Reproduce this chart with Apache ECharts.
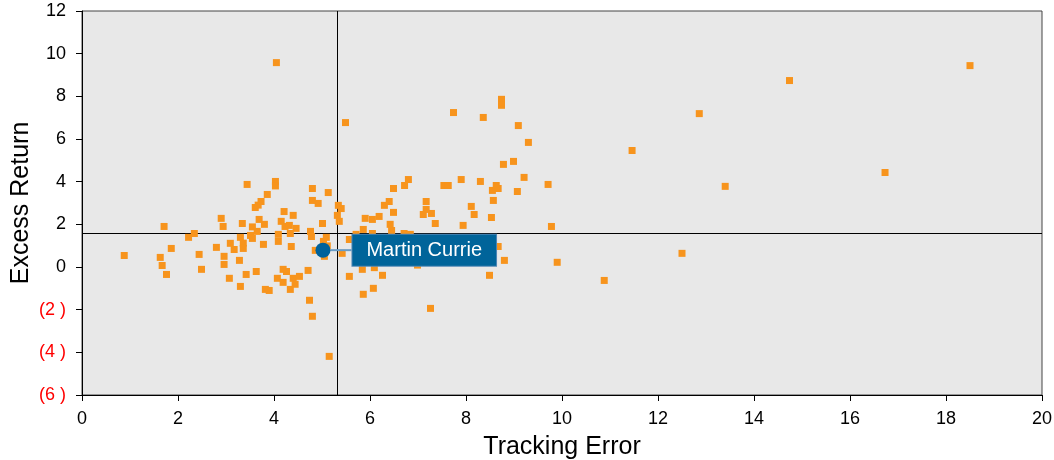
<!DOCTYPE html>
<html>
<head>
<meta charset="utf-8">
<script src="https://cdn.jsdelivr.net/npm/echarts@6/dist/echarts.min.js"></script>
<style>
html,body{margin:0;padding:0;background:#fff;}
#chart{width:1054px;height:460px;}
</style>
</head>
<body>
<div id="chart"></div>
<script>
// Peer universe: tracking error (x) vs excess return (y)
const trackingError = [
0.88,1.63,1.67,1.71,1.76,1.86,2.22,2.34,2.44,2.49,
2.80,2.90,2.94,2.96,2.96,3.07,3.09,3.17,3.28,3.30,
3.30,3.34,3.36,3.36,3.42,3.44,3.51,3.55,3.55,3.61,
3.63,3.65,3.67,3.69,3.73,3.78,3.80,3.82,3.86,3.90,
4.03,4.03,4.05,4.07,4.09,4.09,4.15,4.19,4.19,4.21,
4.23,4.26,4.32,4.34,4.34,4.36,4.40,4.40,4.44,4.46,
4.53,4.71,4.74,4.76,4.78,4.80,4.80,4.80,4.86,4.92,
5.01,5.03,5.05,5.09,5.11,5.13,5.15,5.32,5.34,5.36,
5.40,5.42,5.49,5.57,5.57,5.71,5.84,5.86,5.86,5.90,
6.05,6.05,6.07,6.09,6.19,6.26,6.30,6.40,6.42,6.45,
6.49,6.49,6.72,6.71,6.80,6.84,6.99,7.11,7.17,7.17,
7.26,7.28,7.36,7.54,7.63,7.74,7.90,7.94,8.11,8.17,
8.30,8.36,8.49,8.53,8.55,8.57,8.63,8.67,8.67,8.74,
8.74,8.78,8.80,8.99,9.07,9.09,9.21,9.30,9.71,9.78,
9.90,10.88,11.46,12.50,12.86,13.40,14.74,16.73,18.50
];
const excessReturn = [
0.54,0.45,0.07,1.90,-0.35,0.87,1.39,1.57,0.59,-0.11,
0.92,2.28,1.90,0.50,0.12,-0.53,1.11,0.82,0.31,1.39,
-0.91,2.04,1.12,0.87,-0.35,3.87,1.48,1.88,1.34,2.79,
-0.21,1.67,2.90,2.23,3.07,1.06,2.00,-1.05,3.40,-1.10,
4.01,3.80,9.58,-0.53,1.53,1.20,2.14,-0.11,-0.72,2.60,
1.90,-0.21,1.95,1.57,-1.05,0.96,2.42,-0.53,-0.81,1.81,
-0.44,-0.16,-1.56,1.67,1.43,3.68,3.12,-2.31,0.78,2.98,
2.04,1.20,0.50,1.39,0.99,3.49,-4.19,2.42,2.89,2.14,
2.74,0.64,6.77,1.29,-0.44,1.53,-0.11,1.76,-1.28,2.28,
2.23,1.57,-1.00,-0.03,2.37,-0.39,2.89,3.07,2.00,1.71,
3.68,2.56,3.82,1.57,4.10,1.53,0.09,2.46,3.07,2.70,
-1.94,2.51,2.04,3.82,3.82,7.24,4.10,1.95,2.84,2.46,
4.01,7.01,-0.39,2.32,3.59,3.12,3.82,3.68,0.96,7.86,
7.58,4.81,0.31,4.95,3.54,6.63,4.20,5.84,3.87,1.90,
0.22,-0.63,5.46,0.64,7.19,3.78,8.74,4.43,9.44
];
// Highlighted manager
const highlightName = 'Martin Currie';
const highlightTE = [5.02];
const highlightER = [0.79];
// Median crosshair
const medianTE = 5.32;
const medianER = 1.57;
// Axis ticks
const xTickValues = [0,2,4,6,8,10,12,14,16,18,20];
const yTickValues = [-6,-4,-2,0,2,4,6,8,10,12];
const yTickLabels = ['(6 )','(4 )','(2 )','0','2','4','6','8','10','12'];

const peers = trackingError.map((x, i) => [x, excessReturn[i]]);
const highlight = highlightTE.map((x, i) => [x, highlightER[i]]);

const FONT = 'Liberation Sans, Arial, sans-serif';
const chart = echarts.init(document.getElementById('chart'), null, {renderer: 'canvas'});
chart.setOption({
  animation: false,
  grid: {
    left: 82, right: 12, top: 11, bottom: 65,
    containLabel: false, outerBoundsMode: 'none',
    show: true, backgroundColor: '#E8E8E8', borderColor: '#444', borderWidth: 1
  },
  xAxis: {
    type: 'value', min: 0, max: 20, interval: 2,
    name: 'Tracking Error', nameLocation: 'middle', nameGap: 40,
    nameMoveOverlap: false,
    nameTextStyle: {fontSize: 25, color: '#000', fontFamily: FONT},
    axisLine: {show: true, onZero: false, lineStyle: {color: '#000', width: 1}},
    axisTick: {show: true, length: 6, lineStyle: {color: '#000'}},
    axisLabel: {
      fontSize: 18, color: '#000', fontFamily: FONT, margin: 15,
      formatter: v => { const i = xTickValues.indexOf(v); return i >= 0 ? String(xTickValues[i]) : ''; }
    },
    splitLine: {show: false}
  },
  yAxis: {
    type: 'value', min: -6, max: 12, interval: 2,
    name: 'Excess Return', nameLocation: 'middle', nameGap: 48,
    nameMoveOverlap: false,
    nameTextStyle: {fontSize: 25, color: '#000', fontFamily: FONT},
    axisLine: {show: true, onZero: false, lineStyle: {color: '#000', width: 1}},
    axisTick: {show: true, length: 6, lineStyle: {color: '#000'}},
    axisLabel: {
      fontSize: 18, fontFamily: FONT, margin: 16,
      color: v => (v < 0 ? '#FF0000' : '#000'),
      formatter: v => { const i = yTickValues.indexOf(v); return i >= 0 ? yTickLabels[i] : ''; }
    },
    splitLine: {show: false}
  },
  series: [
    {
      type: 'scatter',
      data: peers,
      symbol: 'rect',
      symbolSize: 7,
      itemStyle: {color: '#F7941D', opacity: 1},
      z: 3,
      markLine: {
        silent: true,
        symbol: 'none',
        label: {show: false},
        lineStyle: {color: '#000', width: 1, type: 'solid'},
        data: [{xAxis: medianTE}, {yAxis: medianER}],
        z: 2
      }
    },
    {
      type: 'scatter',
      data: highlight,
      symbol: 'circle',
      symbolSize: 15,
      itemStyle: {color: '#00629B', opacity: 1},
      z: 5,
      label: {
        show: true,
        formatter: highlightName,
        position: 'right',
        distance: 0,
        backgroundColor: '#00649A',
        borderColor: '#4F86B5',
        borderWidth: 1,
        color: '#fff',
        fontSize: 20,
        lineHeight: 21,
        fontFamily: FONT,
        padding: [5, 14]
      },
      labelLayout: {dx: 22},
      labelLine: {show: true, lineStyle: {color: '#6A9CC4', width: 2}}
    }
  ]
});
</script>
</body>
</html>
